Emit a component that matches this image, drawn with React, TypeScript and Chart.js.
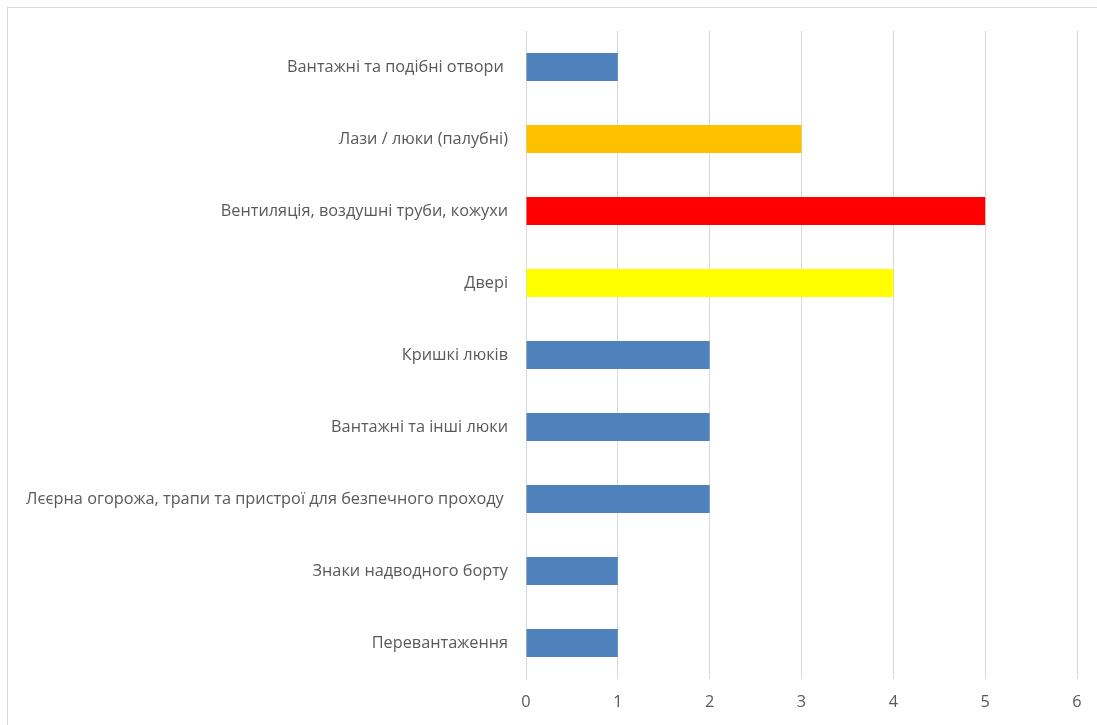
import React, { useEffect, useRef } from "react";
import { Chart, registerables } from "chart.js";

Chart.register(...registerables);

const categories = [
  "Вантажні та подібні отвори ",
  "Лази / люки (палубні)",
  "Вентиляція, воздушні труби, кожухи",
  "Двері",
  "Кришкі люків",
  "Вантажні та інші люки",
  "Лєєрна огорожа, трапи та пристрої для безпечного проходу ",
  "Знаки надводного борту",
  "Перевантаження",
];
const values = [1, 3, 5, 4, 2, 2, 2, 1, 1];
const barColors = [
  "#4F81BD",
  "#FFC000",
  "#FF0000",
  "#FFFF00",
  "#4F81BD",
  "#4F81BD",
  "#4F81BD",
  "#4F81BD",
  "#4F81BD",
];
const xMin = 0;
const xMax = 6;

export default function App() {
  const canvasRef = useRef<HTMLCanvasElement | null>(null);

  useEffect(() => {
    if (!canvasRef.current) return;
    const font = { family: "'Open Sans', 'Noto Sans', sans-serif", size: 16.3 };
    const chart = new Chart(canvasRef.current, {
      type: "bar",
      data: {
        labels: categories,
        datasets: [
          {
            data: values,
            backgroundColor: barColors,
            borderWidth: 0,
            barPercentage: 0.39,
            categoryPercentage: 1,
          },
        ],
      },
      options: {
        indexAxis: "y",
        animation: false,
        responsive: false,
        maintainAspectRatio: false,
        layout: { padding: { top: 31, right: 20, bottom: 0, left: 0 } },
        plugins: {
          legend: { display: false },
          tooltip: { enabled: false },
          title: { display: false },
        },
        scales: {
          x: {
            min: xMin,
            max: xMax,
            ticks: { stepSize: 1, color: "#595959", font, padding: 14 },
            grid: { color: "#D9D9D9", lineWidth: 1, drawTicks: false },
            border: { display: false },
            afterFit: (scale: any) => {
              scale.height = 46;
            },
          },
          y: {
            ticks: { color: "#595959", font, padding: 18 },
            grid: { display: false, drawTicks: false },
            border: { display: true, color: "#D9D9D9" },
            afterFit: (scale: any) => {
              scale.width = 526;
            },
          },
        },
      },
    });
    return () => chart.destroy();
  }, []);

  return (
    <div
      style={{
        position: "absolute",
        left: 0,
        top: 0,
        width: 1097,
        height: 725,
        overflow: "hidden",
        background: "#fff",
      }}
    >
      <div
        style={{
          position: "absolute",
          left: 7,
          top: 7,
          width: 1110,
          height: 740,
          border: "1px solid #D9D9D9",
          boxSizing: "border-box",
        }}
      />
      <canvas
        ref={canvasRef}
        width={1097}
        height={725}
        style={{ position: "absolute", left: 0, top: 0, width: 1097, height: 725 }}
      />
    </div>
  );
}
